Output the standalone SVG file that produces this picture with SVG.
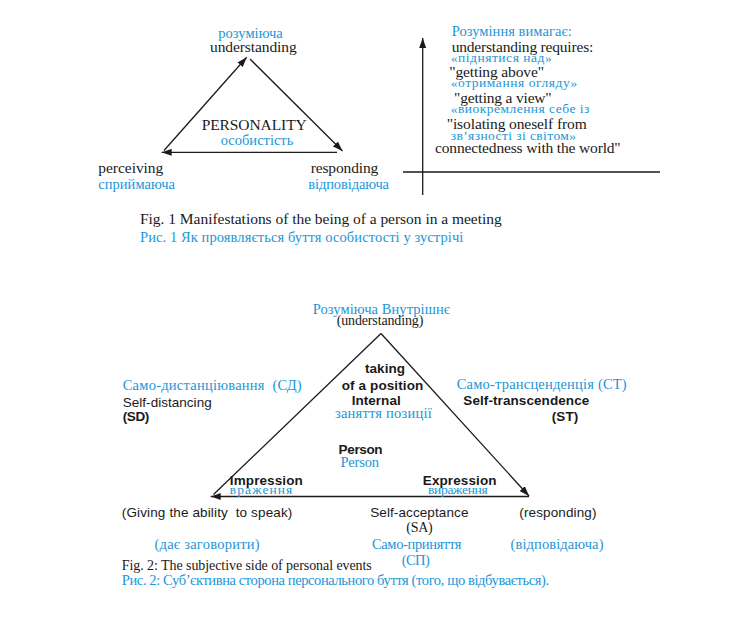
<svg xmlns="http://www.w3.org/2000/svg" width="755" height="640" viewBox="0 0 755 640">
<defs>
<marker id="ah" markerUnits="userSpaceOnUse" markerWidth="10" markerHeight="7" refX="10" refY="3.5" orient="auto">
<path d="M0,0 L10,3.5 L0,7 z" fill="#1a1a1a"/>
</marker>
</defs>
<style>
text{lengthAdjust:spacingAndGlyphs}
.tm{font-family:"Liberation Serif","Times New Roman",serif;font-size:15.5px;fill:#1a1a1a}
.tm2{font-family:"Liberation Serif","Times New Roman",serif;font-size:14px;fill:#1a1a1a}
.bl{font-family:"Liberation Serif","DejaVu Serif",serif;font-size:14.5px;fill:#2196d8}
.bs{font-family:"Liberation Serif","DejaVu Serif",serif;font-size:13.5px;fill:#2196d8}
.ar{font-family:"Liberation Sans",Arial,sans-serif;font-size:13.5px;fill:#1a1a1a}
.ab{font-family:"Liberation Sans",Arial,sans-serif;font-size:13.5px;font-weight:bold;fill:#1a1a1a}
.ln{stroke:#1a1a1a;stroke-width:1.3;fill:none}
</style>
<rect width="755" height="640" fill="#ffffff"/>

<g id="connectors">
<path class="ln" d="M164,150.5 L246.7,57.3" marker-end="url(#ah)"/>
<path class="ln" d="M250,59 L342.5,151" marker-end="url(#ah)"/>
<path class="ln" d="M337,152.3 L161.7,152.3" marker-end="url(#ah)"/>
<path class="ln" d="M422.7,195 L422.7,38" marker-end="url(#ah)"/>
<path class="ln" d="M403,172 L660,172"/>
<path class="ln" d="M381,333.5 L213.5,494.5"/>
<path class="ln" d="M381,333.5 L529,496" marker-end="url(#ah)"/>
<path class="ln" d="M529,496.5 L210.7,496.5" marker-end="url(#ah)"/>
</g>

<g id="f1-understanding">
<text class="bl" x="218.3" y="38" textLength="64.4">розуміюча</text>
<text class="tm" x="210" y="52.3" textLength="86.7">understanding</text>
</g>
<g id="f1-personality">
<text class="tm" x="201.7" y="130" textLength="105">PERSONALITY</text>
<text class="bl" x="220.7" y="145" textLength="72.6">особистість</text>
</g>
<g id="f1-perceiving">
<text class="tm" x="98.3" y="173.3" textLength="65">perceiving</text>
<text class="bl" x="98.3" y="189" textLength="76.7">сприймаюча</text>
</g>
<g id="f1-responding">
<text class="tm" x="310.7" y="173.3" textLength="67.6">responding</text>
<text class="bl" x="308.3" y="189" textLength="80.7">відповідаюча</text>
</g>
<g id="f1-requires">
<text class="bl" x="451.7" y="36" textLength="120">Розуміння вимагає:</text>
<text class="tm" x="451.7" y="51.7" textLength="141.6">understanding requires:</text>
<text class="bs" x="450.7" y="61.7" textLength="101">«піднятися над»</text>
<text class="tm" x="449.3" y="77.3" textLength="94.7">"getting above"</text>
<text class="bs" x="450.7" y="86.7" textLength="126.6">«отримання огляду»</text>
<text class="tm" x="454" y="102.7" textLength="97.7">"getting a view"</text>
<text class="bs" x="450.7" y="113.3" textLength="138.6">«виокремлення себе із</text>
<text class="tm" x="446.7" y="129.3" textLength="140">"isolating oneself from</text>
<text class="bs" x="450.7" y="140" textLength="125.3">зв’язності зі світом»</text>
<text class="tm" x="435" y="153.3" textLength="185.7">connectedness with the world"</text>
</g>
<g id="f1-caption">
<text class="tm" x="140" y="224.3" textLength="361.7">Fig. 1 Manifestations of the being of a person in a meeting</text>
<text class="bl" x="140" y="241.8" textLength="323.3">Рис. 1 Як проявляється буття особистості у зустрічі</text>
</g>

<g id="f2-understanding">
<text class="bl" x="312.7" y="314" textLength="137.3">Розуміюча Внутрішнє</text>
<text class="tm2" x="336.7" y="325" textLength="86.6">(understanding)</text>
</g>
<g id="f2-position">
<text class="ab" x="365" y="373.3" textLength="40">taking</text>
<text class="ab" x="341.7" y="390" textLength="81.6">of a position</text>
<text class="ab" x="351.7" y="405" textLength="49">Internal</text>
<text class="bl" x="335" y="418.3" textLength="96.7">заняття позиції</text>
</g>
<g id="f2-sd">
<text class="bl" x="122.7" y="389.5" textLength="179">Само-дистанціювання&#160; (СД)</text>
<text class="ar" x="122.7" y="407" textLength="89">Self-distancing</text>
<text class="ab" x="122.7" y="420.5" textLength="26.6">(SD)</text>
</g>
<g id="f2-st">
<text class="bl" x="456.7" y="389.3" textLength="170">Само-трансценденція (СТ)</text>
<text class="ab" x="463.3" y="405" textLength="126">Self-transcendence</text>
<text class="ab" x="551.7" y="420.7" textLength="26.6">(ST)</text>
</g>
<g id="f2-person">
<text class="ab" x="338.6" y="454" textLength="44">Person</text>
<text class="bl" x="340.4" y="467.3" textLength="38.6">Person</text>
</g>
<g id="f2-impression">
<text class="ab" x="229.8" y="485.2" textLength="73">Impression</text>
<text class="bs" x="229.8" y="494.3" textLength="62.5">враження</text>
</g>
<g id="f2-expression">
<text class="ab" x="422.8" y="485.2" textLength="73.7">Expression</text>
<text class="bs" x="428" y="494.3" textLength="59.7">вираження</text>
</g>
<g id="f2-giving">
<text class="ar" x="121.8" y="517.3" textLength="170.5">(Giving the ability&#160; to speak)</text>
<text class="bl" x="154.4" y="549.3" textLength="105.2">(дає заговорити)</text>
</g>
<g id="f2-sa">
<text class="ar" x="370.2" y="517.3" textLength="98.2">Self-acceptance</text>
<text class="tm2" x="406.3" y="532.3" textLength="26.3">(SA)</text>
<text class="bl" x="371.9" y="549.3" textLength="89.5">Само-приняття</text>
<text class="bl" x="401.8" y="565" textLength="28">(СП)</text>
</g>
<g id="f2-responding">
<text class="ar" x="519.3" y="517.3" textLength="77.2">(responding)</text>
<text class="bl" x="510.5" y="549.3" textLength="93">(відповідаюча)</text>
</g>
<g id="f2-caption">
<text class="tm2" x="121.8" y="570" textLength="250">Fig. 2: The subjective side of personal events</text>
<text class="bl" x="121.8" y="585" textLength="427.3">Рис. 2: Суб’єктивна сторона персонального буття (того, що відбувається).</text>
</g>
</svg>
